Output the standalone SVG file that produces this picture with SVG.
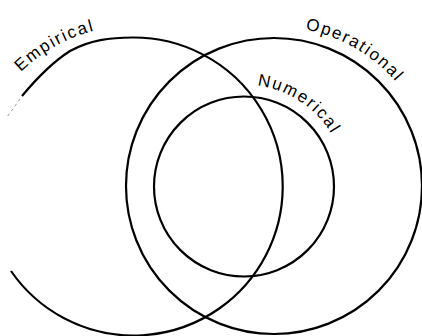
<svg xmlns="http://www.w3.org/2000/svg" width="422" height="336" viewBox="0 0 422 336">
<style>
.ring{fill:none;stroke:#000;stroke-width:2.2}
.lbl{font-family:"Liberation Sans",Arial,sans-serif;font-size:17px;fill:#000;letter-spacing:1.8px}
</style>
<defs>
<path id="pE" d="M21,72 A161,161 0 0 1 200,39.7"/>
<path id="pO" d="M305.3,29.5 A161,161 0 0 1 425.4,131.3"/>
<path id="pN" d="M257.2,85.5 A102,102 0 0 1 344.5,168.8"/>
</defs>
<rect width="422" height="336" fill="#fff"/>
<g id="empirical">
<path class="ring" d="M22,96 C32,84 48,65 70,51 C90,40 110,37.5 133,37.5 A149,149 0 1 1 11,271"/>
<path d="M20,99 L7,117" fill="none" stroke="#999" stroke-width="1" stroke-dasharray="3 3"/>
<text class="lbl"><textPath href="#pE">Empirical</textPath></text>
</g>
<g id="operational">
<circle class="ring" cx="274" cy="186" r="148"/>
<text class="lbl"><textPath href="#pO">Operational</textPath></text>
</g>
<g id="numerical">
<circle class="ring" cx="244" cy="186.5" r="90"/>
<text class="lbl"><textPath href="#pN">Numerical</textPath></text>
</g>
<g id="connectors"/>
</svg>
